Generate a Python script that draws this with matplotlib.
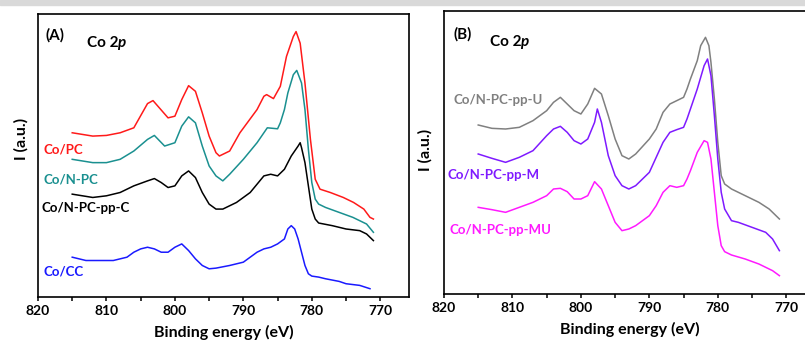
import numpy as np
import matplotlib
matplotlib.use('Agg')
import matplotlib.pyplot as plt
from matplotlib.patches import Rectangle

plt.rcParams['font.family'] = ['Lato', 'DejaVu Sans']
plt.rcParams['font.weight'] = 'bold'

# ---------------- panel A data (binding energy, intensity a.u.) ----------------
eA_pc = [815, 812, 810, 808, 806, 804, 803.2, 801, 800, 799, 798, 797, 796, 795, 794, 793.5,
         792, 790.5, 788, 787, 786.6, 785.6, 784.6, 783.7, 782.7, 782.3, 781.7, 781, 780.2,
         779.5, 778.8, 777.3, 775.4, 773.9, 772.4, 771.5, 771]
iA_pc = [495, 485, 487, 495, 510, 583, 592, 540, 545, 595, 637, 620, 555, 485, 435, 425,
         440, 495, 565, 605, 610, 598, 635, 725, 785, 800, 765, 645, 475,
         355, 325, 315, 300, 285, 265, 240, 235]

eA_npc = [815, 812, 810, 808, 806, 804, 803, 801.5, 800, 799, 798, 797, 796, 795, 794, 793,
          792, 790, 788, 787, 786.5, 785, 784.6, 784, 783.5, 782.7, 782.2, 781.5, 781, 780.5,
          780, 779.5, 779, 778, 776, 774, 772, 771]
iA_npc = [415, 405, 405, 415, 440, 475, 487, 455, 465, 515, 543, 525, 455, 395, 365, 350,
          370, 415, 465, 495, 510, 507, 525, 565, 615, 670, 683, 645, 565, 445,
          345, 295, 280, 270, 255, 240, 220, 195]

eA_ppc = [815, 812, 810, 808, 806, 804, 803, 802, 801, 800, 799, 798, 797, 796, 795, 794,
          793, 791, 790, 789, 788, 787, 786, 785, 784, 783, 782, 781.7, 781.5, 781, 780.5,
          780, 779.5, 779, 777, 775, 773, 772, 771]
iA_ppc = [310, 300, 305, 315, 335, 350, 357, 345, 330, 335, 365, 380, 360, 315, 280, 265,
          265, 285, 300, 315, 340, 365, 370, 365, 385, 425, 455, 465, 450, 405, 335,
          265, 235, 223, 215, 205, 200, 190, 170]

eA_cc = [815, 813, 811, 809, 807, 806, 805, 804, 803, 802, 801, 800, 799, 798, 797, 796,
         795, 794, 792, 790, 789, 788, 787, 786, 785, 784, 783.5, 783, 782.5, 782, 781.5,
         781, 780.5, 780, 779, 778, 776, 775, 773, 771.5]
iA_cc = [120, 110, 110, 110, 120, 135, 145, 150, 145, 135, 135, 150, 160, 140, 115, 95,
         85, 87, 95, 105, 120, 135, 145, 150, 160, 175, 205, 215, 205, 175, 135,
         95, 70, 63, 60, 55, 47, 40, 35, 25]

# ---------------- panel B data ----------------
eB_u = [815, 813, 811, 809, 807, 805, 804, 803, 802, 801, 800, 799, 798, 797, 796, 795,
        794, 793, 792, 790, 789, 788, 787, 786, 785, 784.5, 784, 783, 782.5, 781.8, 781.3,
        781, 780.5, 780, 779.5, 779, 778, 776, 774, 772.5, 771]
iB_u = [507, 497, 495, 500, 520, 550, 575, 590, 570, 550, 540, 570, 617, 600, 535, 465,
        415, 405, 420, 465, 495, 545, 570, 580, 590, 615, 645, 700, 745, 770, 745,
        695, 585, 455, 355, 330, 315, 295, 275, 255, 225]

eB_m = [815, 813, 811, 809, 807, 805, 804, 803, 802, 801, 800, 799, 798, 797.6, 797, 796,
        795, 794, 793, 792, 790, 789, 788, 787, 786, 785, 784.5, 784, 783, 782, 781.5,
        781, 780.5, 780, 779.5, 779, 778, 777, 775, 773, 772, 771]
iB_m = [420, 407, 395, 410, 430, 475, 495, 503, 485, 460, 450, 465, 515, 555, 515, 415,
        355, 325, 315, 325, 365, 410, 455, 485, 493, 500, 525, 555, 615, 685, 705,
        655, 535, 405, 305, 255, 220, 215, 200, 185, 165, 130]

eB_mu = [815, 813, 811, 809, 807, 805, 804, 803, 802, 801, 800, 799, 798, 797, 796, 795,
         794, 793, 792, 790, 789, 788, 787, 786, 785, 784.5, 784, 783, 782, 781.5, 781,
         780.5, 780, 779.5, 779, 778, 776, 774, 772, 771]
iB_mu = [260, 253, 245, 260, 275, 295, 315, 317, 307, 285, 285, 295, 337, 315, 265, 215,
         190, 195, 205, 235, 265, 305, 325, 320, 325, 345, 370, 425, 460, 455, 405,
         305, 205, 145, 127, 117, 105, 90, 70, 55]

xticks = [820, 810, 800, 790, 780, 770]

W, H = 805, 340
fig = plt.figure(figsize=(W / 100, H / 100), dpi=100)
fig.patches.append(Rectangle((0, 1 - 5 / H), 1, 5 / H, transform=fig.transFigure,
                             color='#d9d9d9', zorder=0))


def px(x, y):
    return x / W, 1 - y / H


def setup(ax):
    ax.set_xlim(820, 765.8)
    ax.set_xticks(xticks)
    ax.set_xticks(np.arange(815, 765, -10), minor=True)
    ax.set_yticks([])
    ax.tick_params(axis='x', which='both', direction='out', length=3, width=1.1,
                   labelsize=10, pad=3)
    for s in ax.spines.values():
        s.set_linewidth(1.2)
    for t in ax.get_xticklabels():
        t.set_fontweight('bold')
    ax.set_xlabel('Binding energy (eV)', fontsize=11.5, fontweight='bold')
    ax.set_ylabel('I (a.u.)', fontsize=11.5, fontweight='bold')


def title(x, y, tag, dx):
    fig.text(*px(x, y - 8), tag, fontsize=11, fontweight='bold', va='center')
    t = fig.text(*px(x + dx, y), 'Co 2', fontsize=11, fontweight='bold', va='center')
    fig.canvas.draw()
    bb = t.get_window_extent()
    fig.text(bb.x1 / W - 1.5 / W, 1 - y / H, 'p', fontsize=11, fontweight='bold',
             style='italic', va='center')


# panel A
axA = fig.add_axes([38 / W, (H - 297) / H, 371 / W, 283 / H])
axA.plot(eA_pc, iA_pc, color='#ff1a1a', lw=1.1)
axA.plot(eA_npc, iA_npc, color='#1a9090', lw=1.1)
axA.plot(eA_ppc, iA_ppc, color='black', lw=1.1)
axA.plot(eA_cc, iA_cc, color='#1a1aff', lw=1.1)
axA.set_ylim(0, 853)
setup(axA)
axA.yaxis.set_label_coords(-0.025, 0.56)
axA.xaxis.set_label_coords(0.5, -0.10)

# panel B
axB = fig.add_axes([444 / W, (H - 294) / H, 371 / W, 283 / H])
axB.plot(eB_u, iB_u, color='#808080', lw=1.1)
axB.plot(eB_m, iB_m, color='#7f1aff', lw=1.1)
axB.plot(eB_mu, iB_mu, color='#ff1aff', lw=1.1)
axB.set_ylim(0, 849)
setup(axB)
axB.yaxis.set_label_coords(-0.032, 0.51)
axB.xaxis.set_label_coords(0.5, -0.10)

# text labels
fs = 9.5
title(45, 43, '(A)', 42)
title(453, 42, '(B)', 37)
fig.text(*px(43, 150), 'Co/PC', fontsize=fs, fontweight='bold', color='#ff1a1a', va='center')
fig.text(*px(43, 179), 'Co/N-PC', fontsize=fs, fontweight='bold', color='#1a9090', va='center')
fig.text(*px(41, 208), 'Co/N-PC-pp-C', fontsize=fs, fontweight='bold', color='black', va='center')
fig.text(*px(43, 272), 'Co/CC', fontsize=fs, fontweight='bold', color='#1a1aff', va='center')

fig.text(*px(453, 100), 'Co/N-PC-pp-U', fontsize=fs, fontweight='bold', color='#808080', va='center')
fig.text(*px(447, 175), 'Co/N-PC-pp-M', fontsize=fs, fontweight='bold', color='#7f1aff', va='center')
fig.text(*px(449, 230), 'Co/N-PC-pp-MU', fontsize=fs, fontweight='bold', color='#ff1aff', va='center')

fig.savefig('out.png', dpi=100)
